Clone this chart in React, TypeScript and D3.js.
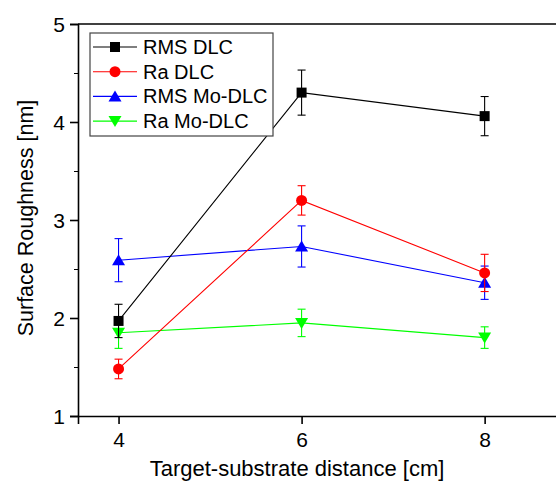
import { useEffect, useRef } from "react";
import * as d3 from "d3";

const distances = [4, 6, 8];
const seriesNames = ["RMS DLC", "Ra DLC", "RMS Mo-DLC", "Ra Mo-DLC"];
const rmsDlc = [1.97, 4.3, 4.06];
const rmsDlcErr = [0.17, 0.23, 0.2];
const raDlc = [1.48, 3.2, 2.46];
const raDlcErr = [0.1, 0.15, 0.19];
const rmsMo = [2.59, 2.73, 2.36];
const rmsMoErr = [0.22, 0.21, 0.17];
const raMo = [1.85, 1.95, 1.8];
const raMoErr = [0.16, 0.14, 0.11];
const yTicks = [1, 2, 3, 4, 5];
const xTicks = [4, 6, 8];

const colors = ["#000000", "#ff0000", "#0000ff", "#00ff00"];
const symbols = ["square", "circle", "up", "down"];
const font = "Liberation Sans, Arial, sans-serif";

export default function App() {
  const svgRef = useRef<SVGSVGElement>(null);

  useEffect(() => {
    const width = 556;
    const height = 483;
    const margin = { top: 24, right: 0, bottom: 67, left: 78 };
    const plotH = height - margin.top - margin.bottom;

    const root = d3.select(svgRef.current);
    root.selectAll("*").remove();
    root.attr("width", width).attr("height", height);

    const svg = root
      .append("g")
      .attr("transform", `translate(${margin.left},${margin.top})`);

    const x = d3.scaleLinear().domain([3.557, 8.9]).range([0, 489]);
    const y = d3.scaleLinear().domain([1, 5]).range([plotH, 0]);

    const series = [
      { vals: rmsDlc, err: rmsDlcErr },
      { vals: raDlc, err: raDlcErr },
      { vals: rmsMo, err: rmsMoErr },
      { vals: raMo, err: raMoErr },
    ];

    const line = d3
      .line<number>()
      .x((_, i) => x(distances[i]))
      .y((d) => y(d));

    const drawMarker = (g: any, kind: string, cx: number, cy: number, color: string) => {
      if (kind === "square") {
        g.append("rect")
          .attr("x", cx - 5)
          .attr("y", cy - 5)
          .attr("width", 10)
          .attr("height", 10)
          .attr("fill", color);
      } else if (kind === "circle") {
        g.append("circle").attr("cx", cx).attr("cy", cy).attr("r", 5.5).attr("fill", color);
      } else if (kind === "up") {
        g.append("path")
          .attr("d", `M${cx},${cy - 6}L${cx + 6.5},${cy + 5}L${cx - 6.5},${cy + 5}Z`)
          .attr("fill", color);
      } else {
        g.append("path")
          .attr("d", `M${cx},${cy + 6}L${cx + 6.5},${cy - 5}L${cx - 6.5},${cy - 5}Z`)
          .attr("fill", color);
      }
    };

    // draw in reverse so black sits on top
    [3, 2, 1, 0].forEach((si) => {
      const s = series[si];
      const color = colors[si];
      const g = svg.append("g");
      g.append("path")
        .attr("d", line(s.vals))
        .attr("fill", "none")
        .attr("stroke", color)
        .attr("stroke-width", 1.1);
      s.vals.forEach((v, i) => {
        const cx = x(distances[i]);
        const top = y(v + s.err[i]);
        const bot = y(v - s.err[i]);
        g.append("line")
          .attr("x1", cx).attr("x2", cx).attr("y1", top).attr("y2", bot)
          .attr("stroke", color).attr("stroke-width", 1.1);
        [top, bot].forEach((yy) =>
          g.append("line")
            .attr("x1", cx - 4).attr("x2", cx + 4).attr("y1", yy).attr("y2", yy)
            .attr("stroke", color).attr("stroke-width", 1.1)
        );
        drawMarker(g, symbols[si], cx, y(v), color);
      });
    });

    // frame top
    svg.append("line")
      .attr("x1", 0).attr("x2", 489).attr("y1", 0).attr("y2", 0)
      .attr("stroke", "#000").attr("stroke-width", 1.6);

    const yAxis = svg.append("g").call(
      d3.axisLeft(y).tickValues(yTicks).tickFormat(d3.format("d")).tickSize(8).tickPadding(5)
    );
    svg.append("g").call(
      d3.axisLeft(y).tickValues([1.5, 2.5, 3.5, 4.5]).tickFormat(() => "").tickSize(4)
    ).select(".domain").remove();

    const xAxis = svg.append("g")
      .attr("transform", `translate(0,${plotH})`)
      .call(d3.axisBottom(x).tickValues(xTicks).tickFormat(d3.format("d")).tickSize(8).tickPadding(5));

    [yAxis, xAxis].forEach((a) => {
      a.select(".domain").attr("stroke-width", 1.6);
      a.selectAll("line").attr("stroke-width", 1.6);
      a.selectAll("text")
        .attr("font-family", font)
        .attr("font-size", 21)
        .attr("fill", "#000");
    });
    yAxis.selectAll(".tick text").attr("dy", "0.36em");
    xAxis.selectAll(".tick text").attr("dy", "0.85em");

    root.append("text")
      .attr("x", 297)
      .attr("y", 476)
      .attr("text-anchor", "middle")
      .attr("font-family", font)
      .attr("font-size", 22)
      .text("Target-substrate distance [cm]");

    root.append("text")
      .attr("transform", `translate(33,218) rotate(-90)`)
      .attr("text-anchor", "middle")
      .attr("font-family", font)
      .attr("font-size", 21.5)
      .text("Surface Roughness [nm]");

    // legend
    const leg = root.append("g").attr("transform", "translate(90,33)");
    leg.append("rect")
      .attr("width", 183).attr("height", 103)
      .attr("fill", "#fff").attr("stroke", "#444").attr("stroke-width", 1.2);
    seriesNames.forEach((name, i) => {
      const ly = 14 + i * 24.7;
      leg.append("line")
        .attr("x1", 3).attr("x2", 47).attr("y1", ly).attr("y2", ly)
        .attr("stroke", colors[i]).attr("stroke-width", 1.1);
      drawMarker(leg, symbols[i], 25, ly, colors[i]);
      leg.append("text")
        .attr("x", 53).attr("y", ly + 7)
        .attr("font-family", font)
        .attr("font-size", 20)
        .text(name);
    });
  }, []);

  return <svg ref={svgRef} style={{ display: "block", position: "absolute", left: 0, top: 0 }}></svg>;
}
